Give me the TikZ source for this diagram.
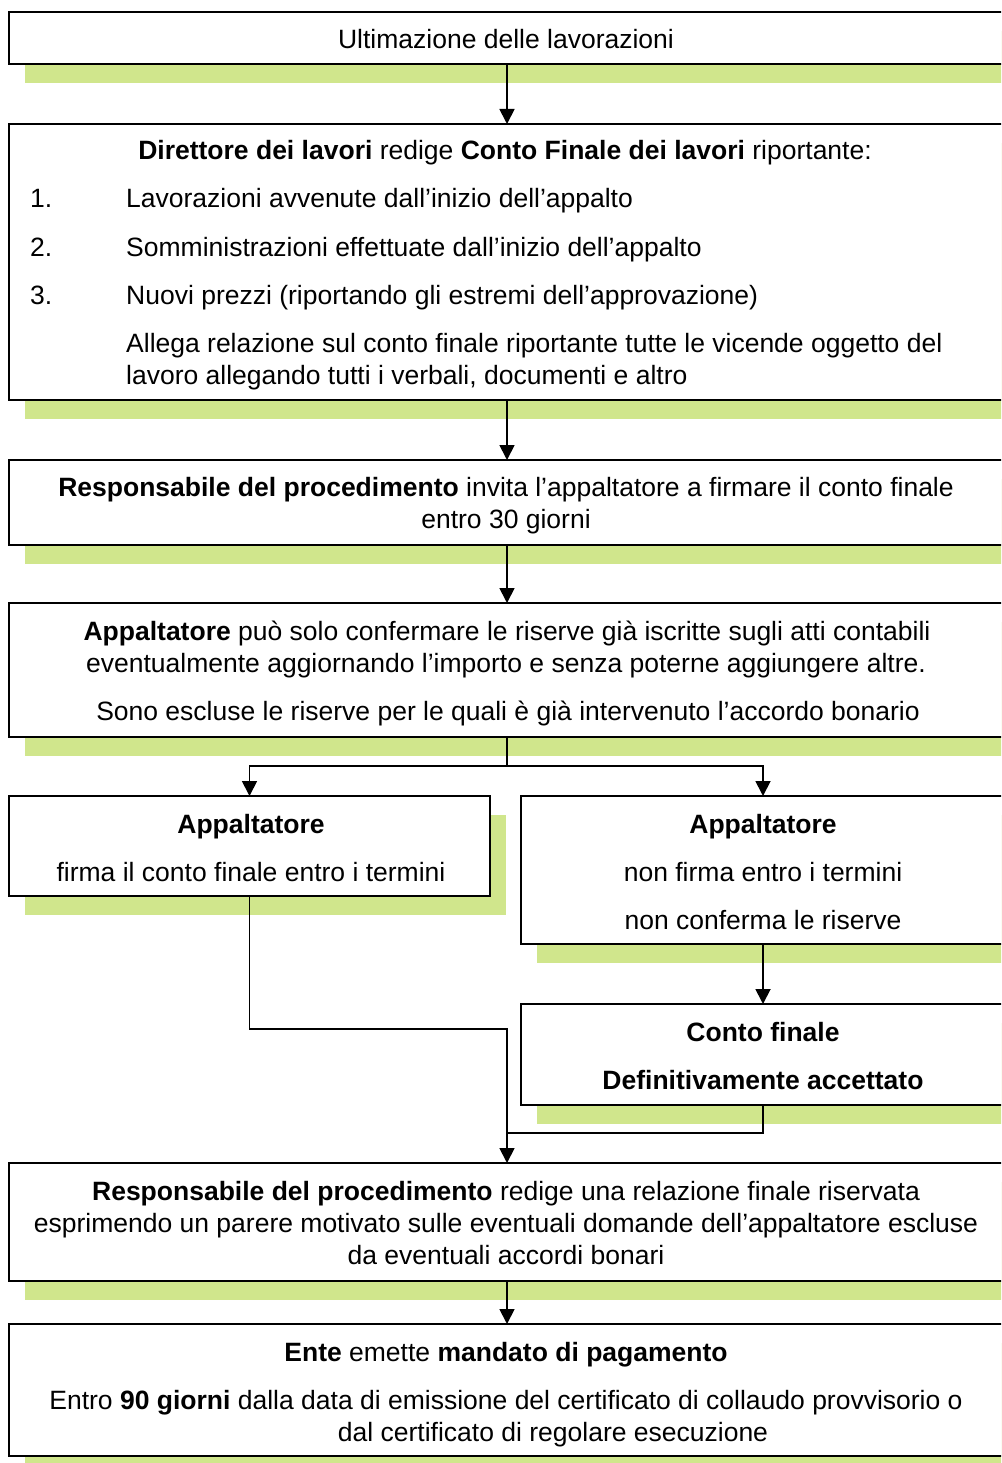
\documentclass[tikz,border=0pt]{standalone}
\usepackage{fontspec}
\setmainfont{Liberation Sans}
\usetikzlibrary{arrows.meta,shadows}
\definecolor{shadowc}{RGB}{208,230,140}
\begin{document}
\begin{tikzpicture}[x=1pt,y=-1pt,
  box/.style={draw=black,line width=1.8pt,fill=white,rectangle,inner sep=0pt,outer sep=0pt,anchor=north west,
    drop shadow={shadow xshift=16pt,shadow yshift=-19pt,fill=shadowc,opacity=1}},
  txt/.style={inner sep=0pt,font=\fontsize{26.5}{32}\selectfont},
  conn/.style={line width=1.8pt,draw=black},
  arr/.style={conn,-{Triangle[width=15pt,length=15pt]}}]
\useasboundingbox (0,0) rectangle (1001,1463);
\clip (0,0) rectangle (1001,1463);
% boxes
\node[box,minimum width=996pt,minimum height=52pt] (b1) at (9,12) {};
\node[box,minimum width=996pt,minimum height=276pt] (b2) at (9,124) {};
\node[box,minimum width=996pt,minimum height=85pt] (b3) at (9,460) {};
\node[box,minimum width=996pt,minimum height=134pt] (b4) at (9,603) {};
\node[box,minimum width=481pt,minimum height=100pt] (b5) at (9,796) {};
\node[box,minimum width=484pt,minimum height=148pt] (b6) at (521,796) {};
\node[box,minimum width=484pt,minimum height=101pt] (b7) at (521,1004) {};
\node[box,minimum width=996pt,minimum height=118pt] (b8) at (9,1163) {};
\node[box,minimum width=996pt,minimum height=132pt] (b9) at (9,1324) {};
% texts
\node[txt,anchor=base] (t1) at (506,49) {Ultimazione delle lavorazioni};
\node[txt,anchor=base] (t2a) at (505,160) {\textbf{Direttore dei lavori} redige \textbf{Conto Finale dei lavori} riportante:};
\node[txt,anchor=base west] (n1) at (30,208) {1.};
\node[txt,anchor=base west] (t2b) at (126,208) {Lavorazioni avvenute dall’inizio dell’appalto};
\node[txt,anchor=base west] (n2) at (30,256) {2.};
\node[txt,anchor=base west] (t2c) at (126,256) {Somministrazioni effettuate dall’inizio dell’appalto};
\node[txt,anchor=base west] (n3) at (30,304) {3.};
\node[txt,anchor=base west] (t2d) at (126,304) {Nuovi prezzi (riportando gli estremi dell’approvazione)};
\node[txt,anchor=base west] (t2e) at (126,352) {Allega relazione sul conto finale riportante tutte le vicende oggetto del};
\node[txt,anchor=base west] (t2f) at (126,384) {lavoro allegando tutti i verbali, documenti e altro};
\node[txt,anchor=base] (t3a) at (506,496) {\textbf{Responsabile del procedimento} invita l’appaltatore a firmare il conto finale};
\node[txt,anchor=base] (t3b) at (506,528) {entro 30 giorni};
\node[txt,anchor=base] (t4a) at (507,640) {\textbf{Appaltatore} può solo confermare le riserve già iscritte sugli atti contabili};
\node[txt,anchor=base] (t4b) at (506,672) {eventualmente aggiornando l’importo e senza poterne aggiungere altre.};
\node[txt,anchor=base] (t4c) at (508,720) {Sono escluse le riserve per le quali è già intervenuto l’accordo bonario};
\node[txt,anchor=base] (t5a) at (251,833) {\textbf{Appaltatore}};
\node[txt,anchor=base] (t5b) at (251,881) {firma il conto finale entro i termini};
\node[txt,anchor=base] (t6a) at (763,833) {\textbf{Appaltatore}};
\node[txt,anchor=base] (t6b) at (763,881) {non firma entro i termini};
\node[txt,anchor=base] (t6c) at (763,929) {non conferma le riserve};
\node[txt,anchor=base] (t7a) at (763,1041) {\textbf{Conto finale}};
\node[txt,anchor=base] (t7b) at (763,1089) {\textbf{Definitivamente accettato}};
\node[txt,anchor=base] (t8a) at (506,1200) {\textbf{Responsabile del procedimento} redige una relazione finale riservata};
\node[txt,anchor=base] (t8b) at (506,1232) {esprimendo un parere motivato sulle eventuali domande dell’appaltatore escluse};
\node[txt,anchor=base] (t8c) at (506,1264) {da eventuali accordi bonari};
\node[txt,anchor=base] (t9a) at (506,1361) {\textbf{Ente} emette \textbf{mandato di pagamento}};
\node[txt,anchor=base] (t9b) at (506,1409) {Entro \textbf{90 giorni} dalla data di emissione del certificato di collaudo provvisorio o};
\node[txt,anchor=base] (t9c) at (553,1441) {dal certificato di regolare esecuzione};
% connectors
\coordinate (split) at (507,766);
\coordinate (m1) at (507,1029);
\coordinate (m2) at (507,1133);
\draw[arr] (b1.south) -- (b2.north);
\draw[arr] (b2.south) -- (b3.north);
\draw[arr] (b3.south) -- (b4.north);
\draw[conn] (b4.south) -- (split);
\draw[arr] (split) -| (b5.north);
\draw[arr] (split) -| (b6.north);
\draw[arr] (b6.south) -- (b7.north);
\draw[arr] (b5.south) |- (m1) -- (b8.north);
\draw[conn] (b7.south) |- (m2);
\draw[arr] (b8.south) -- (b9.north);
\end{tikzpicture}
\end{document}
